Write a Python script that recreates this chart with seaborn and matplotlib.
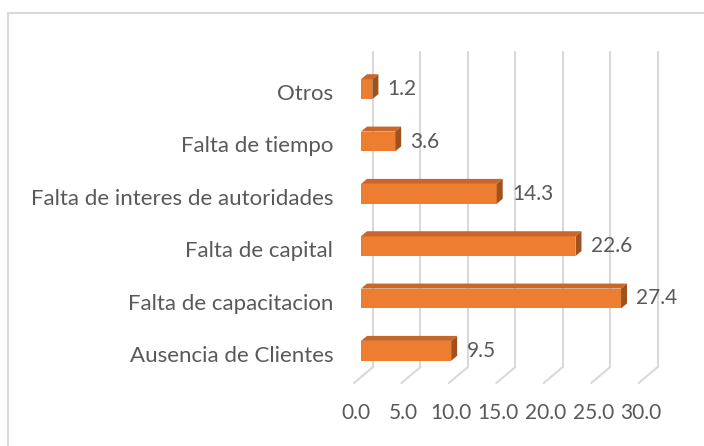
import matplotlib
matplotlib.use("Agg")
import matplotlib.pyplot as plt
import matplotlib.transforms as mtrans
from matplotlib.patches import Polygon, Rectangle
import seaborn as sns
import pandas as pd

# ---- data (top to bottom as displayed) ----
categories = ["Otros", "Falta de tiempo", "Falta de interes de autoridades",
              "Falta de capital", "Falta de capacitacion", "Ausencia de Clientes"]
values = [1.2, 3.6, 14.3, 22.6, 27.4, 9.5]
tick_values = [0, 5, 10, 15, 20, 25, 30]
tick_labels = ["0.0", "5.0", "10.0", "15.0", "20.0", "25.0", "30.0"]

df = pd.DataFrame({"cat": categories, "val": values})

sns.set_theme(style="white")
plt.rcParams["font.family"] = ["Lato", "DejaVu Sans"]

W, H = 704, 446
DPI = 100
fig = plt.figure(figsize=(W / DPI, H / DPI), dpi=DPI)
# axes: x 0 -> 361px, 30 -> 645.7px ; y rows centred 89 .. 351 px
left_px, right_px = 361, 645.7
top_px, bot_px = 63, 377
ax = fig.add_axes([left_px / W, 1 - bot_px / H, (right_px - left_px) / W, (bot_px - top_px) / H])

front = "#ED7D31"
topc = "#C9662A"
sidec = "#A0521E"
txt = "#595959"

sns.barplot(data=df, x="val", y="cat", order=categories, color=front,
            width=0.38, saturation=1, ax=ax, zorder=3)
ax.set_xlim(0, 30)
ax.set_ylim(5.5, -0.5)

px_x = (right_px - left_px) / 30.0        # px per unit x
px_y = (bot_px - top_px) / 6.0            # px per unit y
ddx = 6 / px_x
ddy = 5 / px_y

# 3D faces derived from the drawn bars
for p in list(ax.patches):
    x0, y0 = p.get_x(), p.get_y()
    w, h = p.get_width(), p.get_height()
    x1 = x0 + w
    ytop = y0            # smaller y value = visually top (inverted axis)
    ybot = y0 + h
    top_face = Polygon([(x0, ytop), (x1, ytop), (x1 + ddx, ytop - ddy), (x0 + ddx, ytop - ddy)],
                       closed=True, facecolor=topc, edgecolor="none", zorder=3)
    side_face = Polygon([(x1, ytop), (x1 + ddx, ytop - ddy), (x1 + ddx, ybot - ddy), (x1, ybot)],
                        closed=True, facecolor=sidec, edgecolor="none", zorder=3)
    ax.add_patch(top_face)
    ax.add_patch(side_face)
    p.set_edgecolor("none")

# back-plane gridlines and floor diagonals
gdx = 12 / px_x
g_top = -0.5 - 11 / px_y
g_bot = 5.5 - 10 / px_y
fdx = -19 / px_x
fdy = 16 / px_y
for v in tick_values:
    ax.plot([v + gdx, v + gdx], [g_top, g_bot], color="#D9D9D9", lw=1.5, zorder=1, clip_on=False)
    ax.plot([v + gdx, v + gdx + fdx], [g_bot, g_bot + fdy], color="#D9D9D9", lw=1.5, zorder=1, clip_on=False)

# data labels
ax.bar_label(ax.containers[0], labels=[f"{v:.1f}" for v in values], padding=11,
             fontsize=15, color=txt)

# axes styling
for s in ax.spines.values():
    s.set_visible(False)
ax.set_xlabel("")
ax.set_ylabel("")
ax.set_xticks(tick_values)
ax.set_xticklabels(tick_labels)
ax.tick_params(axis="x", length=0, pad=19, labelsize=15, labelcolor=txt)
ax.tick_params(axis="y", length=0, pad=20, labelsize=16, labelcolor=txt)
off_x = mtrans.ScaledTranslation(-5 / DPI, 0, fig.dpi_scale_trans)
for lab in ax.get_xticklabels():
    lab.set_transform(lab.get_transform() + off_x)
off_y = mtrans.ScaledTranslation(0, -3 / DPI, fig.dpi_scale_trans)
for lab in ax.get_yticklabels():
    lab.set_transform(lab.get_transform() + off_y)
ax.patch.set_alpha(0)

# outer chart border
fig.patches.append(Rectangle((8 / W, -0.1), 1.2, 1 - 13 / H + 0.1, transform=fig.transFigure,
                             fill=False, edgecolor="#D9D9D9", lw=1.5, zorder=0))

fig.savefig("out.png", dpi=DPI)
